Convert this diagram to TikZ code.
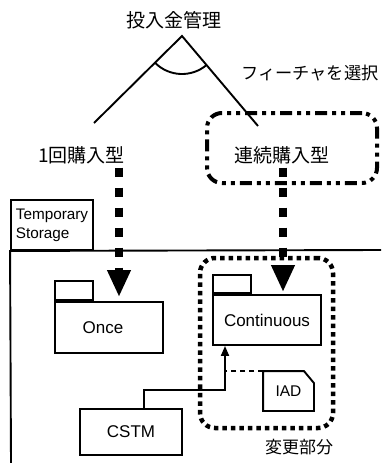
\documentclass[tikz,border=0pt]{standalone}
\usepackage{fontspec}
\setmainfont{Liberation Sans}
\newfontfamily\cjk{Noto Sans CJK JP}
\usetikzlibrary{arrows.meta}
\begin{document}
\begin{tikzpicture}[x=1pt,y=-1pt,line width=1.9pt,
  jp/.style={font=\cjk\fontsize{19}{22}\selectfont,inner sep=0pt},
  jpsmall/.style={font=\cjk\fontsize{17.2}{20}\selectfont,inner sep=0pt},
  pkgbody/.style={draw,line width=1.9pt,font=\fontsize{17}{20}\selectfont,inner sep=0pt},
  pkgtab/.style={draw,line width=1.9pt,inner sep=0pt,anchor=south west,minimum width=38pt,minimum height=18pt},
  bigarrow/.style={line width=8pt,dash pattern=on 9pt off 11pt,-{Triangle[width=22pt,length=27pt]}},
  selbox/.style={draw,line width=4pt,rounded corners=15pt,dash pattern=on 12pt off 5pt on 4pt off 5pt on 4pt off 5pt},
  chgbox/.style={draw,line width=4.5pt,rounded corners=15pt,dash pattern=on 4.5pt off 4pt}]
\useasboundingbox (0,0) rectangle (381,463);

% feature tree
\node[jp] (root) at (173.5,20) {投入金管理};
\coordinate (apex) at (182,36);
\coordinate (lend) at (94,123);
\coordinate (rend) at (258,126);
\draw (lend) -- (apex) -- (rend);
\draw (apex) ++(135.3:38) arc[start angle=135.3,end angle=49.8,radius=38];
\node[jpsmall] (sel) at (310,73) {フィーチャを選択};
\node[jp] (one) at (81.5,155) {1回購入型};
\node[jp] (ren) at (282,155) {連続購入型};
\node[selbox,minimum width=170pt,minimum height=70pt] (selb) at (292,148) {};

% temporary storage package
\node[draw,minimum width=82pt,minimum height=50pt,align=left,inner sep=0pt,
      font=\fontsize{15.3}{19}\selectfont] (ts) at (52,225) {Temporary\\Storage};
\coordinate (fr) at (381,250);
\coordinate (fb) at (11,463);
\draw (fr) -- (ts.south west) -- (fb);

% packages
\node[pkgbody,minimum width=108pt,minimum height=51pt] (once) at (109,327.5) {};
\node[inner sep=0pt,font=\fontsize{17}{20}\selectfont] (oncet) at (103,327.5) {Once};
\node[pkgtab,minimum height=19pt] (oncetab) at (once.north west) {};
\node[pkgbody,minimum width=108pt,minimum height=50pt] (cont) at (267,320) {Continuous};
\node[pkgtab] (conttab) at (cont.north west) {};
\node[pkgbody,minimum width=102pt,minimum height=46pt] (cstm) at (131,432) {CSTM};
\node[inner sep=0pt,minimum width=49pt,minimum height=38pt,font=\fontsize{15.5}{18}\selectfont] (iad) at (288.5,391) {IAD};
\draw (iad.south west) -- (iad.north west) -- ([xshift=-10pt]iad.north east)
      -- ([yshift=-12pt]iad.north east) -- (iad.south east) -- cycle;

% change region
\node[chgbox,minimum width=133pt,minimum height=170pt] (chg) at (266.5,343) {};
\node[font=\cjk\fontsize{17}{20}\selectfont,inner sep=0pt] (chgl) at (299,447) {変更部分};

% connectors
\coordinate (bend) at (225,390);
\draw[-{Triangle[width=8pt,length=10pt]}] ([xshift=13pt]cstm.north) |- (bend) -- (bend |- cont.south);
\draw[dash pattern=on 5pt off 4pt] (iad.north west) -- (iad.north west -| bend);
\draw[bigarrow,shorten >=4pt] ([xshift=37.5pt,yshift=-3pt]one.south) -- ([xshift=10pt]once.north);
\draw[bigarrow,shorten >=2pt] ([xshift=1pt,yshift=-3pt]ren.south) -- ([xshift=16pt]cont.north);
\end{tikzpicture}
\end{document}
